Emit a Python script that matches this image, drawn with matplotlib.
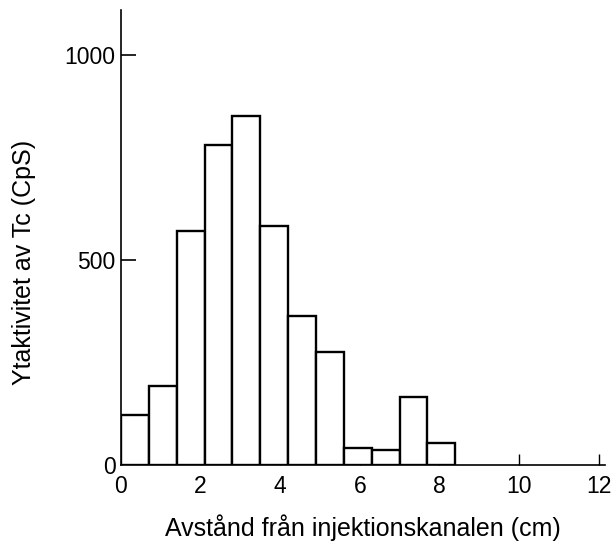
import matplotlib
matplotlib.use("Agg")
import matplotlib.pyplot as plt

plt.rcParams["font.family"] = ["Liberation Sans", "DejaVu Sans"]

# histogram bins (cm) and counts per bin (CpS)
bin_edges = [0.0, 0.7, 1.4, 2.1, 2.8, 3.5, 4.2, 4.9, 5.6, 6.3, 7.0, 7.7, 8.4]
counts = [122, 193, 571, 780, 852, 584, 363, 275, 41, 37, 167, 55]
x_ticks = [0, 2, 4, 6, 8, 10, 12]
y_ticks = [0, 500, 1000]

fig = plt.figure(figsize=(6.11, 5.46), dpi=100)
ax = fig.add_axes([0.198, 0.148, 0.792, 0.834])

lefts = bin_edges[:-1]
widths = [b - a for a, b in zip(bin_edges[:-1], bin_edges[1:])]
ax.bar(lefts, counts, width=widths, align="edge", facecolor="white",
       edgecolor="black", linewidth=1.7, zorder=2)

ax.set_xlim(0, 12.16)
ax.set_ylim(0, 1110)
ax.set_xticks(x_ticks)
ax.set_yticks(y_ticks)
ax.tick_params(axis="y", direction="in", length=11, width=1.2, labelsize=16.5, pad=4)
ax.tick_params(axis="x", direction="in", length=8, width=1.0, labelsize=16.5, pad=7)
ax.yaxis.get_major_ticks()[0].tick1line.set_visible(False)
ax.xaxis.get_major_ticks()[0].tick1line.set_visible(False)

for side in ("top", "right"):
    ax.spines[side].set_visible(False)
for side in ("left", "bottom"):
    ax.spines[side].set_linewidth(1.2)
    ax.spines[side].set_zorder(3)

ax.set_xlabel("Avstånd från injektionskanalen (cm)", fontsize=18)
ax.set_ylabel("Ytaktivitet av Tc (CpS)", fontsize=18)
ax.xaxis.set_label_coords(0.5, -0.108)
ax.yaxis.set_label_coords(-0.2, 0.446)
ax.xaxis.label.set_va("top")
ax.yaxis.label.set_va("center")

fig.savefig("out.png", dpi=100)
